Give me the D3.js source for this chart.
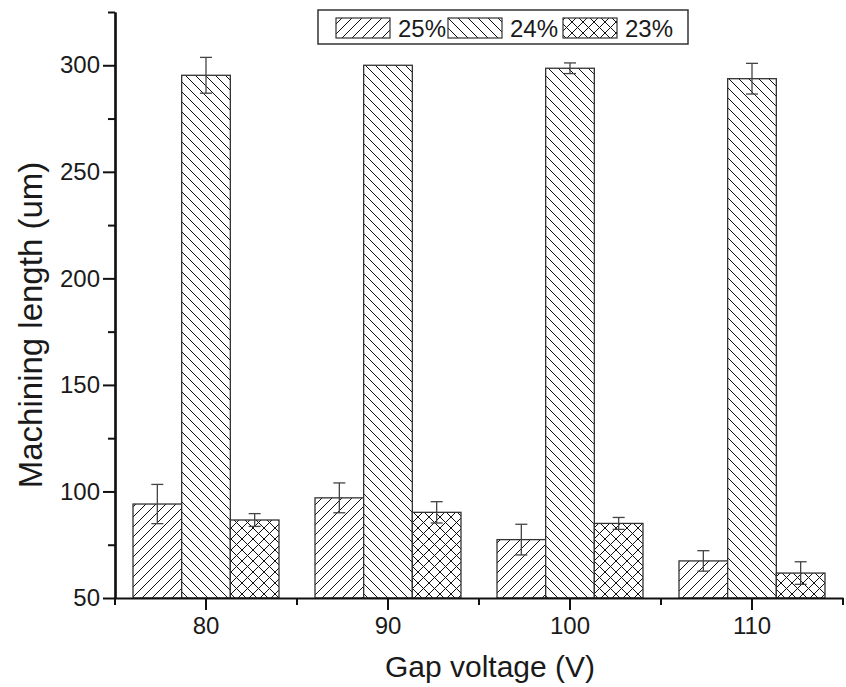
<!DOCTYPE html>
<html>
<head>
<meta charset="utf-8">
<script src="https://cdn.jsdelivr.net/npm/d3@7"></script>
<style>
  body { margin: 0; background: #fff; }
  text { font-family: "Liberation Sans", Arial, sans-serif; fill: #1a1a1a; }
</style>
</head>
<body>
<svg id="chart" width="846" height="687"></svg>
<script>
// data
var voltages = ["80", "90", "100", "110"];
var series = ["25%", "24%", "23%"];
var values25 = [94.1, 97.0, 77.4, 67.4];
var values24 = [295.3, 300.0, 298.6, 293.7];
var values23 = [86.6, 90.2, 85.0, 61.7];
var err25 = [9.2, 7.0, 7.2, 4.8];
var err24 = [8.4, 0, 2.5, 7.2];
var err23 = [3.0, 5.0, 2.8, 5.3];
var yMajorTicks = [50, 100, 150, 200, 250, 300];
var yMinorTicks = [75, 125, 175, 225, 275, 325];

var allValues = [values25, values24, values23];
var allErr = [err25, err24, err23];

var svg = d3.select("#chart");

var plotLeft = 115, plotRight = 843, plotTop = 12, plotBottom = 598;

var xScale = d3.scaleBand()
  .domain(voltages)
  .range([plotLeft, plotRight])
  .padding(0);

var xScaleSeries = d3.scaleBand()
  .domain(series)
  .range([0, xScale.bandwidth()])
  .paddingInner(0)
  .paddingOuter(0.37);

var yScale = d3.scaleLinear()
  .domain([50, 325])
  .range([plotBottom, plotTop]);

// hatch patterns
var defs = svg.append("defs");
var p1 = defs.append("pattern").attr("id", "hatch25")
  .attr("patternUnits", "userSpaceOnUse").attr("width", 10).attr("height", 10);
p1.append("rect").attr("width", 10).attr("height", 10).attr("fill", "#fff");
p1.append("path").attr("d", "M0,10L10,0M-3,3L3,-3M7,13L13,7")
  .attr("stroke", "#111").attr("stroke-width", 1);

var p2 = defs.append("pattern").attr("id", "hatch24")
  .attr("patternUnits", "userSpaceOnUse").attr("width", 10).attr("height", 10);
p2.append("rect").attr("width", 10).attr("height", 10).attr("fill", "#fff");
p2.append("path").attr("d", "M0,0L10,10M-3,7L3,13M7,-3L13,3")
  .attr("stroke", "#111").attr("stroke-width", 1);

var p3 = defs.append("pattern").attr("id", "hatch23")
  .attr("patternUnits", "userSpaceOnUse").attr("width", 11).attr("height", 11);
p3.append("rect").attr("width", 11).attr("height", 11).attr("fill", "#fff");
p3.append("path").attr("d", "M0,0L11,11M-3,8L3,14M8,-3L14,3M0,11L11,0M-3,3L3,-3M8,14L14,8")
  .attr("stroke", "#111").attr("stroke-width", 1);

var fills = ["url(#hatch25)", "url(#hatch24)", "url(#hatch23)"];

// bars
var rows = [];
voltages.forEach(function(v, i) {
  series.forEach(function(s, j) {
    rows.push({ voltage: v, series: s, idx: j, value: allValues[j][i], err: allErr[j][i] });
  });
});

var bars = svg.append("g");
bars.selectAll("rect")
  .data(rows)
  .enter()
  .append("rect")
  .attr("x", function(d) { return xScale(d.voltage) + xScaleSeries(d.series); })
  .attr("y", function(d) { return yScale(d.value); })
  .attr("width", xScaleSeries.bandwidth())
  .attr("height", function(d) { return yScale(50) - yScale(d.value); })
  .attr("fill", function(d) { return fills[d.idx]; })
  .attr("stroke", "#333")
  .attr("stroke-width", 1.3);

// error bars
var errG = svg.append("g").attr("stroke", "#444").attr("stroke-width", 1.3);
rows.filter(function(d) { return d.err > 0; }).forEach(function(d) {
  var cx = xScale(d.voltage) + xScaleSeries(d.series) + xScaleSeries.bandwidth() / 2;
  var y1 = yScale(d.value + d.err), y2 = yScale(d.value - d.err);
  errG.append("line").attr("x1", cx).attr("x2", cx).attr("y1", y1).attr("y2", y2);
  errG.append("line").attr("x1", cx - 6).attr("x2", cx + 6).attr("y1", y1).attr("y2", y1);
  errG.append("line").attr("x1", cx - 6).attr("x2", cx + 6).attr("y1", y2).attr("y2", y2);
});

// y axis
var yAxis = d3.axisLeft(yScale).tickValues(yMajorTicks).tickSize(12).tickSizeOuter(0).tickPadding(3);
var yMinor = d3.axisLeft(yScale).tickValues(yMinorTicks).tickSize(7).tickSizeOuter(0).tickFormat("");

svg.append("g").attr("transform", "translate(" + plotLeft + ",0)").call(yAxis);
svg.append("g").attr("transform", "translate(" + plotLeft + ",0)").call(yMinor);

// x axis
var xAxis = d3.axisBottom(xScale).tickSize(12).tickSizeOuter(0).tickPadding(7);
var bandEdges = voltages.map(function(v) { return xScale(v); }).concat([plotRight]);
svg.append("g").attr("transform", "translate(0," + plotBottom + ")").call(xAxis);
var gxMinor = svg.append("g").attr("transform", "translate(0," + plotBottom + ")");
gxMinor.selectAll("line").data(bandEdges).enter().append("line")
  .attr("x1", function(d) { return d; }).attr("x2", function(d) { return d; })
  .attr("y1", 0).attr("y2", 7);

svg.selectAll(".domain").attr("stroke", "#111").attr("stroke-width", 2.2);
svg.selectAll(".tick line").attr("stroke", "#111").attr("stroke-width", 2);
gxMinor.selectAll("line").attr("stroke", "#111").attr("stroke-width", 2);
svg.selectAll(".tick text")
  .style("font-family", "'Liberation Sans', Arial, sans-serif")
  .style("font-size", "24px").attr("fill", "#1a1a1a");

// axis titles
svg.append("text")
  .attr("x", 490).attr("y", 677)
  .attr("text-anchor", "middle")
  .style("font-size", "30px")
  .text("Gap voltage (V)");

svg.append("text")
  .attr("transform", "translate(42,325) rotate(-90)")
  .attr("text-anchor", "middle")
  .style("font-size", "33px")
  .text("Machining length (um)");

// legend
var legend = svg.append("g");
legend.append("rect")
  .attr("x", 318).attr("y", 10).attr("width", 370).attr("height", 34)
  .attr("fill", "#fff").attr("stroke", "#333").attr("stroke-width", 1.5);
var legendX = [336, 448, 563];
series.forEach(function(s, j) {
  legend.append("rect")
    .attr("x", legendX[j]).attr("y", 18).attr("width", 54).attr("height", 20)
    .attr("fill", fills[j]).attr("stroke", "#333").attr("stroke-width", 1.2);
  legend.append("text")
    .attr("x", legendX[j] + 62).attr("y", 37)
    .style("font-size", "24px")
    .text(s);
});
</script>
</body>
</html>
